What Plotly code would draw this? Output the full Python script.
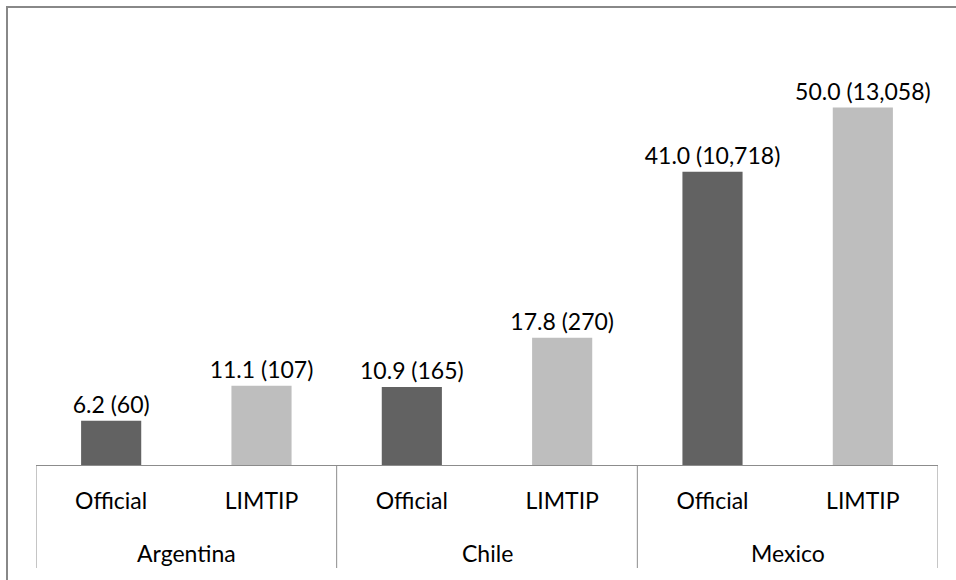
import plotly.graph_objects as go

# Headcount ratio (%) and number of people, by country and measure
countries = ["Argentina", "Chile", "Mexico"]
measures = ["Official", "LIMTIP"]
rates = {
    "Argentina": [6.2, 11.1],
    "Chile": [10.9, 17.8],
    "Mexico": [41.0, 50.0],
}
people = {
    "Argentina": [60, 107],
    "Chile": [165, 270],
    "Mexico": [10718, 13058],
}

measure_colors = {"Official": "#626262", "LIMTIP": "#BEBEBE"}

FONT = "Lato, 'Liberation Sans', Arial, sans-serif"
FONT_SIZE = 23
GRID = "#8c8c8c"

# plot area in pixels (956x580 canvas)
L, R, T, B = 36, 18, 36, 115
W = 956 - L - R
H = 580 - T - B


def py(pixel_y):
    """Canvas pixel row -> paper y."""
    return (H + T - pixel_y) / H


def px(pixel_x):
    """Canvas pixel column -> paper x."""
    return (pixel_x - L) / W


# one slot per (country, measure) pair, in reading order
slot_x, slot_y, slot_n, slot_c, slot_lbl = [], [], [], [], []
for ci, c in enumerate(countries):
    for mi, m in enumerate(measures):
        slot_x.append(ci * len(measures) + mi)
        slot_y.append(rates[c][mi])
        slot_n.append(people[c][mi])
        slot_c.append(measure_colors[m])
        slot_lbl.append(m)

n_per = len(measures)
n_slots = len(slot_x)

fig = go.Figure(
    go.Bar(
        x=slot_x,
        y=slot_y,
        customdata=slot_n,
        width=0.4,
        marker=dict(color=slot_c, line=dict(width=0)),
        texttemplate="%{y:.1f} (%{customdata:,})",
        textposition="outside",
        constraintext="none",
        textfont=dict(family=FONT, size=FONT_SIZE, color="#000000"),
        cliponaxis=False,
        hoverinfo="skip",
    )
)

shapes = []
# group dividers hanging below the axis line
for k in range(len(countries) + 1):
    xb = k * n_per - 0.5
    shapes.append(
        dict(
            type="line", xref="x", yref="paper",
            x0=xb, x1=xb, y0=0, y1=py(568),
            line=dict(color=GRID, width=1),
        )
    )
# chart frame, running off the right and bottom edges
shapes.append(
    dict(
        type="rect", xref="paper", yref="paper",
        x0=px(7), x1=1.2, y0=-0.5, y1=py(7),
        line=dict(color="#888888", width=2),
        fillcolor="rgba(0,0,0,0)",
        layer="above",
    )
)

annotations = []
for ci, c in enumerate(countries):
    annotations.append(
        dict(
            text=c, xref="x", yref="paper",
            x=ci * n_per + (n_per - 1) / 2, y=py(553),
            xanchor="center", yanchor="middle",
            showarrow=False,
            font=dict(family=FONT, size=FONT_SIZE, color="#000000"),
        )
    )

fig.update_layout(
    width=956,
    height=580,
    margin=dict(l=L, r=R, t=T, b=B, pad=0),
    paper_bgcolor="#ffffff",
    plot_bgcolor="#ffffff",
    showlegend=False,
    font=dict(family=FONT, size=FONT_SIZE, color="#000000"),
    xaxis=dict(
        range=[-0.5, n_slots - 0.5],
        tickmode="array",
        tickvals=slot_x,
        ticktext=slot_lbl,
        showline=True,
        linecolor=GRID,
        linewidth=1,
        showgrid=False,
        zeroline=False,
        ticks="",
        ticklabelstandoff=15,
        tickfont=dict(family=FONT, size=FONT_SIZE, color="#000000"),
    ),
    yaxis=dict(
        range=[0, 60],
        visible=False,
        showgrid=False,
        zeroline=False,
    ),
    shapes=shapes,
    annotations=annotations,
)

fig.write_html("out.html")
